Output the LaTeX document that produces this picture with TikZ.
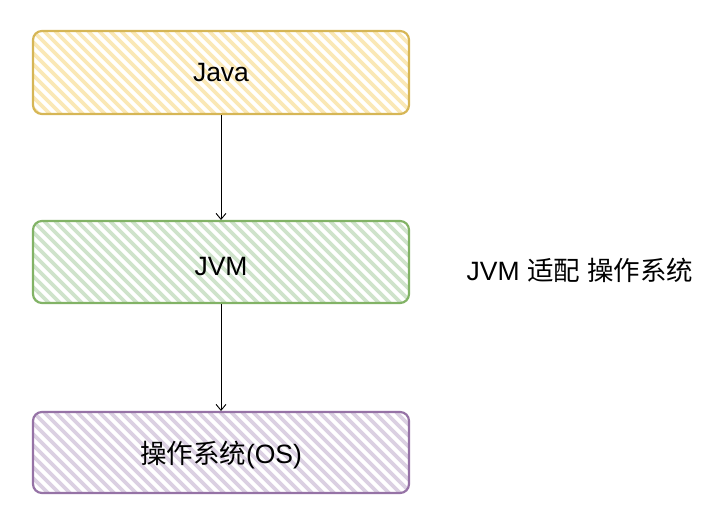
\documentclass[tikz,border=0pt]{standalone}
\usepackage{fontspec}
\setmainfont{Liberation Sans}
\newfontfamily\cjk{Noto Sans CJK SC}
\usetikzlibrary{arrows.meta}
\definecolor{yfill}{HTML}{FAE8B6}
\definecolor{ydraw}{HTML}{D6B656}
\definecolor{gfill}{HTML}{CFE3CB}
\definecolor{gdraw}{HTML}{82B366}
\definecolor{pfill}{HTML}{DBD0E2}
\definecolor{pdraw}{HTML}{9673A6}
\tikzset{
  boxstyle/.style={rounded corners=9pt, line width=2.2pt},
  lbl/.style={font=\fontsize{26.5}{31}\selectfont, inner sep=0pt},
  conn/.style={line width=0.9pt, -{Straight Barb[length=6pt,width=10pt]}}
}
\newcommand{\hatchbox}[6]{%
  \begin{scope}
    \clip[rounded corners=9pt] (#2,#3) rectangle (#4,#5);
    \foreach \k in {-110,-99,...,420} {
      \draw[#6fill, line width=3.6pt] (#2+\k,#3) -- ++(120,120);
    }
  \end{scope}
  \draw[boxstyle, draw=#6draw] (#2,#3) rectangle (#4,#5);
  \coordinate (#1) at ({(#2+#4)/2},{(#3+#5)/2});
}
\begin{document}
\begin{tikzpicture}[x=1pt,y=-1pt]
  \useasboundingbox (0,0) rectangle (720,509);
  \hatchbox{javab}{33}{31}{409}{114}{y}
  \hatchbox{jvmb}{33}{221}{409}{303}{g}
  \hatchbox{osb}{33}{412}{409}{493}{p}
  \node[lbl] (java) at (221,73) {Java};
  \node[lbl] (jvm) at (221,267) {JVM};
  \node[lbl] (os) at (221,455) {{\cjk 操作系统}(OS)};
  \node[lbl] (note) at (580,270) {JVM {\cjk 适配} {\cjk 操作系统}};
  \coordinate (a1) at (221,115);
  \coordinate (a2) at (221,220);
  \coordinate (b1) at (221,304);
  \coordinate (b2) at (221,411);
  \draw[conn] (a1) -- (a2);
  \draw[conn] (b1) -- (b2);
\end{tikzpicture}
\end{document}
